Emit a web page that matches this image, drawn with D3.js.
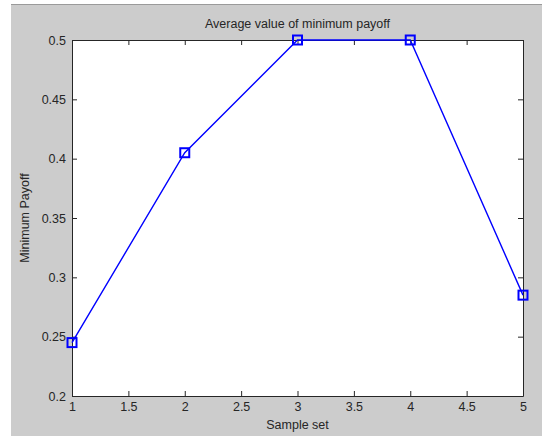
<!DOCTYPE html>
<html>
<head>
<meta charset="utf-8">
<script src="https://cdn.jsdelivr.net/npm/d3@7"></script>
<style>
  body { margin: 0; background: #fff; }
  svg { display: block; }
</style>
</head>
<body>
<svg id="chart"></svg>
<script>
// data
const sampleSet = [1, 2, 3, 4, 5];
const minPayoff = [0.245, 0.405, 0.5, 0.5, 0.285];
const xTicks = [1, 1.5, 2, 2.5, 3, 3.5, 4, 4.5, 5];
const yTicks = [0.2, 0.25, 0.3, 0.35, 0.4, 0.45, 0.5];

const width = 542, height = 436;
const margin = { top: 40, right: 19, bottom: 40, left: 72 };
const font = "'Liberation Sans', Arial, sans-serif";

const svg = d3.select("#chart").attr("width", width).attr("height", height);

// figure background (matlab grey)
svg.append("rect").attr("x", 11).attr("y", 4).attr("width", width - 11).attr("height", 432)
  .attr("fill", "#cccccc");
svg.append("line").attr("x1", 11).attr("x2", width).attr("y1", 4.5).attr("y2", 4.5)
  .attr("stroke", "#9a9a9a").attr("stroke-width", 1);

const w = width - margin.left - margin.right;
const h = height - margin.top - margin.bottom;

const x = d3.scaleLinear().domain([1, 5]).range([0, w]);
const y = d3.scaleLinear().domain([0.2, 0.5]).range([h, 0]);

const g = svg.append("g").attr("transform", `translate(${margin.left},${margin.top})`);

g.append("rect").attr("width", w).attr("height", h).attr("fill", "#fff");

const fmt = d => String(d);
const axisColor = "#262626";

// bottom axis with labels
const gx = g.append("g").attr("transform", `translate(0,${h})`)
  .call(d3.axisBottom(x).tickValues(xTicks).tickFormat(fmt).tickSizeInner(-5).tickSizeOuter(0).tickPadding(6));
// top axis, ticks only
const gxt = g.append("g")
  .call(d3.axisTop(x).tickValues(xTicks).tickFormat("").tickSizeInner(-5).tickSizeOuter(0));
// left axis with labels
const gy = g.append("g")
  .call(d3.axisLeft(y).tickValues(yTicks).tickFormat(fmt).tickSizeInner(-5).tickSizeOuter(0).tickPadding(6));
// right axis, ticks only
const gyr = g.append("g").attr("transform", `translate(${w},0)`)
  .call(d3.axisRight(y).tickValues(yTicks).tickFormat("").tickSizeInner(-5).tickSizeOuter(0));

[gx, gxt, gy, gyr].forEach(a => {
  a.selectAll("path, line").attr("stroke", axisColor);
  a.selectAll("text").attr("fill", "#262626").style("font-family", font).style("font-size", "12.5px");
});

// series line
const line = d3.line().x((d, i) => x(sampleSet[i])).y(d => y(d));
g.append("path").datum(minPayoff)
  .attr("d", line)
  .attr("fill", "none")
  .attr("stroke", "#0000ff")
  .attr("stroke-width", 1.4);

// square markers
const ms = 9;
g.selectAll("rect.marker").data(minPayoff).enter().append("rect")
  .attr("class", "marker")
  .attr("x", (d, i) => x(sampleSet[i]) - ms / 2)
  .attr("y", d => y(d) - ms / 2)
  .attr("width", ms).attr("height", ms)
  .attr("fill", "none")
  .attr("stroke", "#0000ff")
  .attr("stroke-width", 2);

// title and axis labels
svg.append("text").attr("x", margin.left + w / 2).attr("y", 28)
  .attr("text-anchor", "middle").attr("fill", "#262626")
  .style("font-family", font).style("font-size", "12.5px")
  .text("Average value of minimum payoff");

svg.append("text").attr("x", margin.left + w / 2).attr("y", 429)
  .attr("text-anchor", "middle").attr("fill", "#262626")
  .style("font-family", font).style("font-size", "12.5px")
  .text("Sample set");

svg.append("text").attr("transform", `translate(29,${margin.top + h / 2}) rotate(-90)`)
  .attr("text-anchor", "middle").attr("fill", "#262626")
  .style("font-family", font).style("font-size", "12.5px")
  .text("Minimum Payoff");
</script>
</body>
</html>
